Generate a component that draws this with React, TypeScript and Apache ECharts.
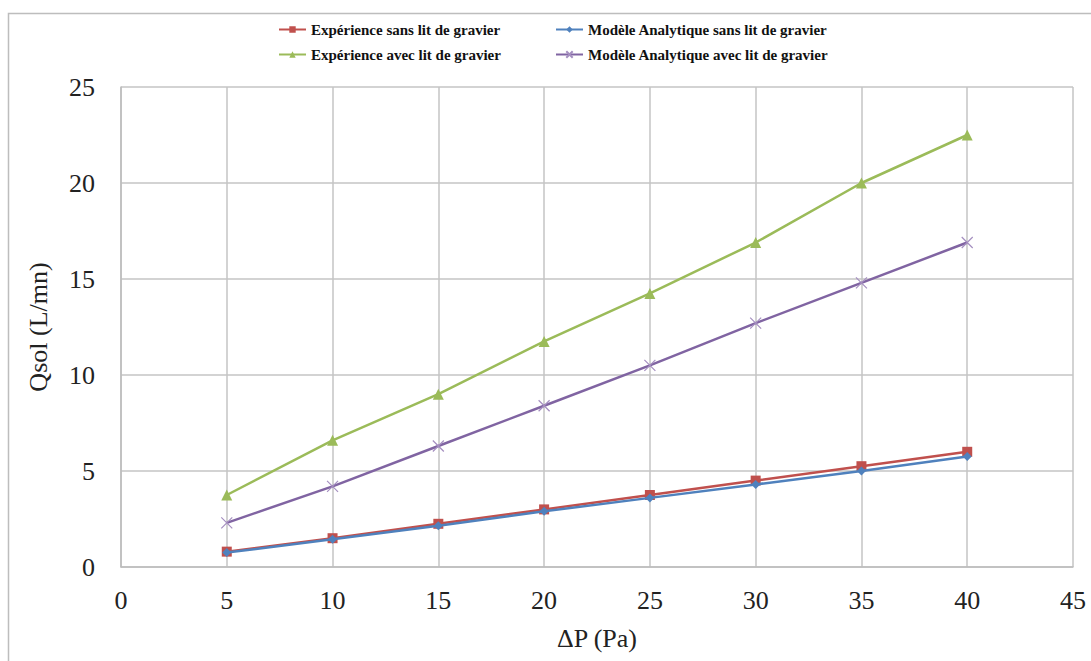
import React, { useEffect, useRef } from "react";
import * as echarts from "echarts";

const xValues = [5, 10, 15, 20, 25, 30, 35, 40];
const expSans = [0.8, 1.5, 2.25, 3.0, 3.75, 4.5, 5.25, 6.0];
const modSans = [0.75, 1.45, 2.15, 2.9, 3.6, 4.3, 5.0, 5.75];
const expAvec = [3.75, 6.6, 9.0, 11.75, 14.25, 16.9, 20.0, 22.5];
const modAvec = [2.3, 4.2, 6.3, 8.4, 10.5, 12.7, 14.8, 16.9];

const names = [
  "Expérience sans lit de gravier",
  "Modèle Analytique sans lit de gravier",
  "Expérience avec lit de gravier",
  "Modèle Analytique avec lit de gravier",
];

const FONT = "Liberation Serif";

export default function App() {
  const ref = useRef<HTMLDivElement>(null);
  useEffect(() => {
    if (!ref.current) return;
    const chart = echarts.init(ref.current, undefined, { renderer: "svg" });
    const pair = (ys: number[]) => xValues.map((x, i) => [x, ys[i]]);
    const legendBase = {
      itemWidth: 27,
      itemHeight: 8,
      padding: 0,
      textStyle: { fontFamily: FONT, fontSize: 15, fontWeight: "bold", color: "#111" },
      itemGap: 2,
    };
    chart.setOption({
      animation: false,
      backgroundColor: "#fff",
      graphic: [
        {
          type: "rect",
          shape: { x: 8.5, y: 13.5, width: 1200, height: 800 },
          style: { fill: "none", stroke: "#BDBDBD", lineWidth: 1.5 },
          silent: true,
        },
      ],
      legend: [
        { ...legendBase, left: 278, top: 22, data: [names[0]] },
        { ...legendBase, left: 555, top: 22, data: [names[1]] },
        { ...legendBase, left: 278, top: 47, data: [names[2]] },
        { ...legendBase, left: 555, top: 47, data: [names[3]] },
      ],
      grid: { left: 121, right: 18, top: 87, bottom: 94, containLabel: false },
      xAxis: {
        type: "value",
        min: 0,
        max: 45,
        interval: 5,
        name: "ΔP (Pa)",
        nameLocation: "middle",
        nameGap: 58,
        nameTextStyle: { fontFamily: FONT, fontSize: 26, color: "#222" },
        axisLine: { lineStyle: { color: "#BDBDBD", width: 1.5 } },
        axisTick: { show: false },
        axisLabel: { fontFamily: FONT, fontSize: 26, color: "#222", margin: 20 },
        splitLine: { show: true, lineStyle: { color: "#C4C4C4", width: 1.5 } },
      },
      yAxis: {
        type: "value",
        min: 0,
        max: 25,
        interval: 5,
        name: "Qsol (L/mn)",
        nameLocation: "middle",
        nameGap: 70,
        nameTextStyle: { fontFamily: FONT, fontSize: 26, color: "#222" },
        axisLine: { show: true, lineStyle: { color: "#BDBDBD", width: 1.5 } },
        axisTick: { show: false },
        axisLabel: { fontFamily: FONT, fontSize: 26, color: "#222", margin: 26 },
        splitLine: { show: true, lineStyle: { color: "#C4C4C4", width: 1.5 } },
      },
      series: [
        {
          name: names[0],
          type: "line",
          data: pair(expSans),
          color: "#C0504D",
          symbol: "rect",
          symbolSize: 10,
          lineStyle: { width: 2.5 },
          z: 2,
        },
        {
          name: names[1],
          type: "line",
          data: pair(modSans),
          color: "#4F81BD",
          symbol: "diamond",
          symbolSize: 9,
          lineStyle: { width: 2.5 },
          z: 3,
        },
        {
          name: names[2],
          type: "line",
          data: pair(expAvec),
          color: "#9BBB59",
          symbol: "triangle",
          symbolSize: 11,
          lineStyle: { width: 2.5 },
          z: 2,
        },
        {
          name: names[3],
          type: "line",
          data: pair(modAvec),
          color: "#8064A2",
          symbol: "path://M0,0L10,10M10,0L0,10",
          symbolSize: 11,
          itemStyle: { color: "none", borderColor: "#A58FC0", borderWidth: 1.2 },
          lineStyle: { width: 2.5, color: "#8064A2" },
          z: 2,
        },
      ],
    });
    return () => chart.dispose();
  }, []);
  return <div ref={ref} style={{ width: 1091, height: 661, position: "absolute", left: 0, top: 0 }} />;
}
